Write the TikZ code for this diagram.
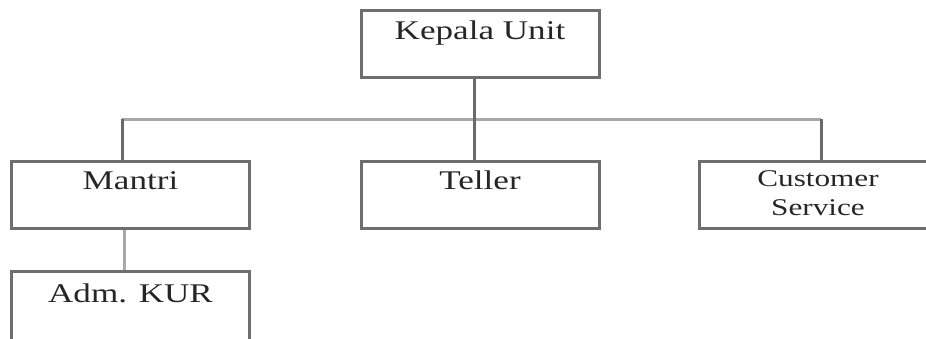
\documentclass[tikz,border=0pt]{standalone}
\usepackage{fontspec}
\newfontfamily\orgfont[FakeStretch=1.3]{Liberation Serif}
\definecolor{boxline}{HTML}{6E6E6E}
\definecolor{busline}{HTML}{A8A8A8}
\definecolor{linkline}{HTML}{6A6A6A}
\definecolor{textcol}{HTML}{262626}
\begin{document}
\begin{tikzpicture}[x=1pt,y=-1pt,
  unitbox/.style={draw=boxline, line width=3pt, minimum width=238pt, minimum height=67pt, inner sep=0pt},
  unitname/.style={anchor=base, text=textcol, font=\orgfont\fontsize{27}{28}\selectfont, inner sep=0pt},
  smallname/.style={unitname, font=\orgfont\fontsize{24}{26}\selectfont},
  bus/.style={draw=busline, line width=3pt},
  link/.style={draw=linkline, line width=3pt}]
\useasboundingbox (0,0) rectangle (926,338);
\clip (0,0) rectangle (926,338);

% boxes
\node[unitbox] (ku) at (480,43.5) {};
\node[unitbox] (mantri) at (130.5,194.5) {};
\node[unitbox] (teller) at (480,194.5) {};
\node[unitbox] (cs) at (818,194.5) {};
\node[unitbox, minimum height=80pt] (adm) at (130.5,311) {};

% names
\node[unitname] (kuT) at (480,39) {Kepala Unit};
\node[unitname] (mantriT) at (130.5,189) {Mantri};
\node[unitname] (tellerT) at (480,189) {Teller};
\node[smallname] (csT1) at (818,186) {Customer};
\node[smallname] (csT2) at (818,215) {Service};
\node[unitname] (admT) at (130.5,302) {Adm. KUR};

% connectors
\coordinate (busL) at (122,119);
\coordinate (busM) at (474,119);
\coordinate (busR) at (821,119);
\coordinate (mlink) at (124,0);
\draw[bus] (busL) -- (busR);
\draw[link] (busM |- ku.south) -- (busM |- teller.north);
\draw[link] (busL) -- (busL |- mantri.north);
\draw[link] (busR) -- (busR |- cs.north);
\draw[bus] (mlink |- mantri.south) -- (mlink |- adm.north);
\end{tikzpicture}
\end{document}
